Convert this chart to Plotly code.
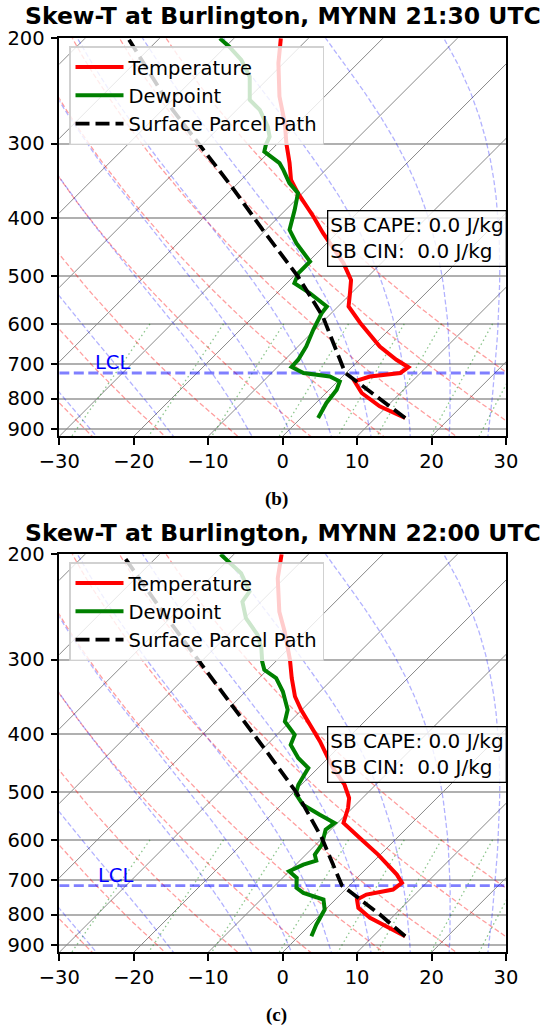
import numpy as np
import plotly.graph_objects as go

# ---------------- data ----------------
# Panel (b): 21:30 UTC
temp_b_p = [200, 220, 250, 277, 300, 323, 345, 363, 397, 423, 475, 507, 533, 561, 598, 655, 689, 709, 725, 735, 749, 783, 824, 862]
temp_b_t = [-53.7, -50.7, -46.1, -41.8, -38.8, -35.8, -33.3, -30.6, -25.4, -21.9, -15.1, -11.8, -10.2, -8.6, -4.8, 1.0, 5.0, 7.6, 7.3, 3.7, 2.3, 4.8, 9.0, 14.0]
dew_b_p = [200, 206.6, 217.4, 232, 253.5, 263.5, 280.9, 292, 301.4, 309.3, 323.4, 331.8, 349.2, 362.9, 387, 418, 439.9, 472.1, 493.6, 513, 533.1, 561.3, 575.7, 613.9, 654.6, 688.9, 708.5, 725, 734.6, 748.8, 773.1, 813.6, 862]
dew_b_t = [-61.9, -59.5, -56.1, -52.7, -49.6, -46.9, -43.6, -42.0, -41.4, -40.7, -37.1, -35.7, -33.1, -30.6, -28.8, -26.8, -24.1, -19.8, -19.8, -19.0, -15.6, -11.5, -11.3, -10.2, -8.9, -8.2, -8.1, -5.7, -1.7, 0.3, 1.0, 1.4, 2.3]
parcel_b_p = [862, 793, 725, 583.3, 500.1, 418, 353.8, 301.4, 263.5, 200]
parcel_b_t = [14.0, 7.1, -0.1, -10.7, -19.4, -30.4, -40.4, -50.3, -58.6, -74.2]
lcl_b_p = 725.0

# Panel (c): 22:00 UTC
temp_c_p = [200, 219.3, 249.4, 269.3, 300.2, 322.1, 345.7, 363.8, 411, 455.2, 485.4, 510.8, 530.8, 562.3, 595.7, 635.2, 685.9, 708.1, 726.6, 740.8, 755.1, 779.6, 810.1, 869.5]
temp_c_t = [-53.6, -50.9, -46.2, -42.8, -38.3, -35.6, -32.7, -30.1, -23.3, -18.0, -14.2, -11.8, -10.6, -9.2, -5.0, -0.3, 4.9, 6.7, 6.4, 3.5, 2.9, 4.2, 7.1, 14.3]
dew_c_p = [200, 207, 215.1, 230.9, 240, 255.8, 272.7, 287.1, 302.2, 312, 322.1, 339.1, 363.8, 380.6, 400.5, 416.2, 438, 455.2, 485.4, 503, 524.2, 544.7, 562.3, 577, 611.3, 635.2, 650, 660.1, 677.3, 694.7, 721.9, 736, 755.1, 784.6, 831.4, 869.5]
dew_c_t = [-61.8, -59.2, -56.5, -52.9, -52.5, -49.8, -46.0, -43.7, -41.8, -40.4, -37.7, -35.0, -31.9, -30.7, -27.6, -26.8, -24.0, -21.3, -20.4, -19.5, -17.1, -13.5, -10.4, -10.7, -9.2, -8.8, -7.8, -9.0, -10.0, -8.1, -6.8, -5.2, -1.6, -0.1, 0.8, 1.7]
parcel_c_p = [869.5, 800, 715.5, 595.7, 501.1, 438, 356.9, 300.2, 259.1, 200]
parcel_c_t = [14.3, 8.0, -1.0, -10.1, -19.5, -27.6, -40.1, -50.7, -59.6, -75.0]
lcl_c_p = 715.5

titles = ["Skew-T at Burlington, MYNN 21:30 UTC", "Skew-T at Burlington, MYNN 22:00 UTC"]
panel_labels = ["(b)", "(c)"]
cape_text = "SB CAPE: 0.0 J/kg<br>SB CIN:\u00a0 0.0 J/kg"

x_ticks = [-30, -20, -10, 0, 10, 20, 30]
x_ticktext = ["\u221230", "\u221220", "\u221210", "0", "10", "20", "30"]
p_ticks = [200, 300, 400, 500, 600, 700, 800, 900]
p_ticktext = [str(v) for v in p_ticks]

# ---------------- layout geometry ----------------
W, H = 550, 1029
P_BOT, P_TOP = 925.0, 200.0
X_MIN, X_MAX = -30.0, 30.0
AX_L, AX_R = 59.3, 506.0
AX_H = 398.0
TOPS = [38.3, 554.3]
K = (AX_H / np.log(P_BOT / P_TOP)) / ((AX_R - AX_L) / (X_MAX - X_MIN))


def skew(t, p):
    return np.asarray(t, float) + K * np.log(P_BOT / np.asarray(p, float))


# ---------------- background reference lines ----------------
def join(curves_t, curves_p):
    xs, ys = [], []
    for t, p in zip(curves_t, curves_p):
        xs += list(skew(t, p)) + [None]
        ys += list(p) + [None]
    return xs, ys


p_full = np.linspace(1050, 100, 60)
iso_T = np.arange(-110, 40, 10)
iso = join([[T, T] for T in iso_T], [[1050, 100]] * len(iso_T))
dry_t0 = np.arange(-40, 51, 10) + 273.15
dry = join([th * (p_full / 1000.0) ** 0.2857 - 273.15 for th in dry_t0], [p_full] * len(dry_t0))


def moist_curve(t0c, p_levels):
    Rd, Cp, Lv, eps = 287.04749, 1005.7, 2.50084e6, 0.6219569

    def f(lnp, T):
        p = np.exp(lnp)
        es = 6.112 * np.exp(17.67 * (T - 273.15) / (T - 29.65))
        rs = eps * es / (p - es)
        return (Rd * T + Lv * rs) / (Cp + Lv * Lv * rs * eps / (Rd * T * T))

    out = []
    for pt in p_levels:
        T = t0c + 273.15
        a, b = np.log(1000.0), np.log(pt)
        n = 60
        h = (b - a) / n
        x = a
        for _ in range(n):
            k1 = f(x, T)
            k2 = f(x + h / 2, T + h / 2 * k1)
            k3 = f(x + h / 2, T + h / 2 * k2)
            k4 = f(x + h, T + h * k3)
            T = T + h / 6 * (k1 + 2 * k2 + 2 * k3 + k4)
            x += h
        out.append(T - 273.15)
    return np.array(out)


moist_t0 = list(range(-40, 0, 10)) + list(range(0, 51, 5))
p_moist = np.linspace(1050, 100, 40)
moist = join([moist_curve(t0, p_moist) for t0 in moist_t0], [p_moist] * len(moist_t0))

mix_w = [0.0004, 0.001, 0.002, 0.004, 0.007, 0.01, 0.016, 0.024, 0.032]
p_mix = np.linspace(600, 1050, 30)
mix_curves = []
for w in mix_w:
    e = p_mix * w / (0.6219569 + w)
    le = np.log(e / 6.112)
    mix_curves.append(243.5 * le / (17.67 - le))
mix = join(mix_curves, [p_mix] * len(mix_w))

# ---------------- figure ----------------
fig = go.Figure()
panels = [
    (temp_b_p, temp_b_t, dew_b_p, dew_b_t, parcel_b_p, parcel_b_t, lcl_b_p),
    (temp_c_p, temp_c_t, dew_c_p, dew_c_t, parcel_c_p, parcel_c_t, lcl_c_p),
]
annotations = []
for i, (tp, tt, dp, dt, pp, pt, lcl) in enumerate(panels):
    xa = "x" if i == 0 else "x2"
    ya = "y" if i == 0 else "y2"
    leg = "legend" if i == 0 else "legend2"
    bg = dict(xaxis=xa, yaxis=ya, mode="lines", showlegend=False, hoverinfo="skip")
    fig.add_trace(go.Scatter(x=iso[0], y=iso[1], line=dict(color="#888888", width=1.0), **bg))
    fig.add_trace(go.Scatter(x=dry[0], y=dry[1], line=dict(color="rgba(255,0,0,0.38)", width=1.3, dash="5px,2.5px"), **bg))
    fig.add_trace(go.Scatter(x=moist[0], y=moist[1], line=dict(color="rgba(0,0,255,0.3)", width=1.3, dash="5px,2.5px"), **bg))
    fig.add_trace(go.Scatter(x=mix[0], y=mix[1], line=dict(color="rgba(0,128,0,0.45)", width=1.3, dash="1.5px,3px"), **bg))
    fig.add_trace(go.Scatter(x=[X_MIN, X_MAX], y=[lcl, lcl], line=dict(color="rgba(0,0,255,0.5)", width=2.8, dash="10px,4.5px"), **bg))
    common = dict(xaxis=xa, yaxis=ya, mode="lines", legend=leg, hoverinfo="skip")
    fig.add_trace(go.Scatter(x=skew(tt, tp), y=tp, name="Temperature", line=dict(color="#ff0000", width=4), **common))
    fig.add_trace(go.Scatter(x=skew(dt, dp), y=dp, name="Dewpoint", line=dict(color="#008000", width=4), **common))
    fig.add_trace(go.Scatter(x=skew(pt, pp), y=pp, name="Surface Parcel Path", line=dict(color="black", width=3.8, dash="14px,6px"), **common))

    top = TOPS[i]
    bottom = top + AX_H
    ydom = [1 - bottom / H, 1 - top / H]
    axis_common = dict(showline=True, linecolor="black", linewidth=1.5, mirror=True, ticks="outside",
                       ticklen=7, tickwidth=1.5, tickcolor="black", zeroline=False, automargin=False,
                       tickfont=dict(family="DejaVu Sans", size=19.5, color="black"))
    fig.layout["xaxis" if i == 0 else "xaxis2"] = dict(
        range=[X_MIN, X_MAX], tickvals=x_ticks, ticktext=x_ticktext, showgrid=False,
        domain=[AX_L / W, AX_R / W], anchor=ya, **axis_common)
    fig.layout["yaxis" if i == 0 else "yaxis2"] = dict(
        type="log", range=[np.log10(P_BOT), np.log10(P_TOP)], tickvals=p_ticks, ticktext=p_ticktext,
        showgrid=True, gridcolor="#b0b0b0", gridwidth=1.6, domain=ydom, anchor=xa,
        ticklabelstandoff=2, **axis_common)
    fig.layout[leg] = dict(x=69 / W, xanchor="left", y=1 - (top + 8) / H, yanchor="top",
                           xref="paper", yref="paper",
                           bgcolor="rgba(255,255,255,0.8)", bordercolor="rgba(204,204,204,0.9)", borderwidth=1.5,
                           font=dict(family="DejaVu Sans", size=19.5, color="black"), itemwidth=48,
                           traceorder="normal")
    annotations.append(dict(text="<b>" + titles[i] + "</b>", x=(AX_L + AX_R) / 2 / W, y=1 - (top - 21.8) / H,
                            xref="paper", yref="paper", xanchor="center", yanchor="middle", showarrow=False,
                            font=dict(family="DejaVu Sans", size=23.5, color="black")))
    annotations.append(dict(text="<b>" + panel_labels[i] + "</b>", x=276 / W, y=1 - (top + 461) / H,
                            xref="paper", yref="paper", xanchor="center", yanchor="middle", showarrow=False,
                            font=dict(family="Liberation Serif", size=19, color="black")))
    annotations.append(dict(text=cape_text, x=507 / W, y=1 - (top + 200.5) / H, xref="paper", yref="paper",
                            xanchor="right", yanchor="middle", align="left", showarrow=False,
                            font=dict(family="DejaVu Sans", size=20, color="black"),
                            bordercolor="black", borderwidth=1.3, borderpad=2,
                            bgcolor="rgba(255,255,255,0.8)"))
    annotations.append(dict(text="LCL", x=float(skew(-34, lcl)), y=float(np.log10(lcl)), xref=xa, yref=ya,
                            xanchor="left", yanchor="middle", yshift=10.5, showarrow=False,
                            font=dict(family="DejaVu Sans", size=19.5, color="blue")))

fig.update_layout(template="none", width=W, height=H, margin=dict(l=0, r=0, t=0, b=0, pad=0),
                  paper_bgcolor="white", plot_bgcolor="white", hovermode=False,
                  annotations=annotations, font=dict(family="DejaVu Sans"))
fig.write_html("out.html", config={"displayModeBar": False},
               post_script="document.body.style.margin='0px';document.body.style.overflow='hidden';")
